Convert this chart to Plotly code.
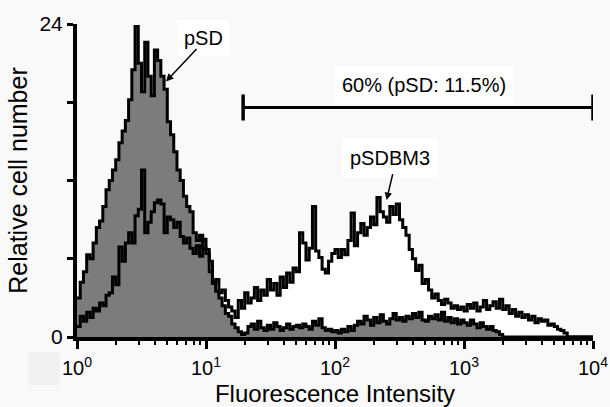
import plotly.graph_objects as go

# Histogram channels: log10 fluorescence, from 10^0 in steps of 0.025 decade
LOG_START = 0.0
LOG_STEP = 0.025
N_BINS = 160

# Relative cell number per channel
psd_counts = [
    3.0, 4.2, 5.0, 6.3, 6.0, 7.2, 8.4, 8.9, 10.0, 11.3,
    12.0, 12.8, 13.6, 14.9, 15.8, 16.6, 18.2, 20.5, 23.8, 21.0,
    18.8, 22.6, 20.0, 18.5, 22.0, 21.2, 20.0, 19.0, 16.5, 15.5,
    14.2, 12.8, 12.0, 10.8, 10.0, 9.6, 8.0, 7.4, 7.8, 6.8,
    6.4, 5.0, 4.2, 3.5, 3.0, 2.4, 1.8, 1.6, 1.0, 0.7,
    0.4, 0.2, 0.3, 0.8, 1.0, 0.6, 1.2, 0.7, 0.5, 0.9,
    0.6, 1.1, 0.8, 0.5, 0.7, 1.0, 0.6, 0.8, 0.9, 0.7,
    1.0, 0.8, 0.6, 1.2, 0.9, 1.4, 0.7, 0.5, 0.6, 0.4,
    0.5, 0.3, 0.6, 0.4, 0.8, 0.5, 0.9, 1.2, 1.0, 1.6,
    1.3, 0.9, 1.5, 1.1, 1.7, 1.2, 1.0, 1.4, 1.8, 1.3,
    1.5, 1.2, 1.6, 1.4, 1.8, 1.5, 1.9, 1.3, 1.2, 1.6,
    1.4, 1.7, 1.3, 1.9, 1.2, 1.5, 1.1, 1.4, 1.0, 1.3,
    1.1, 0.9, 1.3, 1.0, 0.7, 1.1, 0.8, 0.6, 0.8, 0.5,
    0.4, 0.2, 0.0, 0.0, 0.0, 0.0, 0.0, 0.0, 0.0, 0.0,
    0.0, 0.0, 0.0, 0.0, 0.0, 0.0, 0.0, 0.0, 0.0, 0.0,
    0.0, 0.0, 0.0, 0.0, 0.0, 0.0, 0.0, 0.0, 0.0, 0.0,
]

psdbm3_counts = [
    0.8, 1.6, 1.2, 1.9, 1.5, 2.2, 2.0, 2.6, 2.4, 3.2,
    3.4, 4.6, 4.0, 6.9, 5.8, 7.2, 8.0, 7.2, 9.3, 9.8,
    12.8, 8.0, 8.8, 9.6, 10.3, 10.5, 10.2, 8.0, 9.2, 9.0,
    8.4, 8.8, 7.7, 7.2, 7.6, 6.8, 6.4, 7.0, 6.2, 7.5,
    6.7, 5.8, 4.1, 4.4, 3.4, 3.6, 2.8, 2.3, 2.0, 1.5,
    2.8, 2.2, 3.4, 2.6, 3.0, 3.8, 2.8, 3.6, 3.2, 4.4,
    3.6, 4.1, 3.2, 4.6, 3.8, 4.9, 4.2, 5.3, 5.0, 8.0,
    7.2, 5.9, 6.8, 10.0, 6.6, 6.1, 5.2, 4.9, 5.8, 6.4,
    6.7, 6.1, 6.7, 6.3, 7.4, 9.5, 7.0, 8.0, 8.7, 7.8,
    8.4, 9.2, 8.6, 10.7, 9.6, 9.2, 8.8, 10.0, 9.4, 10.2,
    9.0, 8.4, 7.8, 6.7, 6.0, 5.1, 5.5, 4.1, 4.4, 3.6,
    3.0, 3.3, 2.8, 2.5, 2.9, 2.6, 2.2, 2.4, 2.1, 2.3,
    2.0, 2.5, 2.2, 2.6, 2.0, 2.3, 2.8, 2.1, 2.4, 2.7,
    2.2, 2.9, 2.1, 2.4, 1.8, 2.1, 1.6, 1.9, 1.5, 1.7,
    1.3, 1.6, 1.1, 1.4, 1.2, 1.3, 0.9, 1.0, 0.8, 0.6,
    0.5, 0.3, 0.0, 0.0, 0.0, 0.0, 0.0, 0.0, 0.0, 0.0,
]

x_tick_vals = [1, 10, 100, 1000, 10000]
x_tick_text = ["10<sup>0</sup>", "10<sup>1</sup>", "10<sup>2</sup>", "10<sup>3</sup>", "10<sup>4</sup>"]
y_tick_vals = [0, 6, 12, 18, 24]
y_tick_text = ["0", "", "", "", "24"]

gate_low, gate_high, gate_level = 19.4, 10000, 17.6
gate_label = "60% (pSD: 11.5%)"

FONT = "Liberation Sans, Arial, sans-serif"

edges = [10 ** (LOG_START + i * LOG_STEP) for i in range(N_BINS + 1)]
xs = edges
psd_y = psd_counts + [psd_counts[-1]]
bm3_y = psdbm3_counts + [psdbm3_counts[-1]]

minor_vals = [m * 10 ** k for k in range(4) for m in range(2, 10)]

fig = go.Figure()
# white fill under pSDBM3 (drawn beneath)
fig.add_trace(go.Scatter(x=xs, y=bm3_y, mode="lines", line=dict(shape="hv", width=0, color="white"),
                         fill="tozeroy", fillcolor="white", hoverinfo="skip", showlegend=False))
# pSD grey histogram
fig.add_trace(go.Scatter(x=xs, y=psd_y, mode="lines", line=dict(shape="hv", width=3, color="black"),
                         fill="tozeroy", fillcolor="#7c7c7c", name="pSD", showlegend=False))
# pSDBM3 outline on top
fig.add_trace(go.Scatter(x=xs, y=bm3_y, mode="lines", line=dict(shape="hv", width=3, color="black"),
                         name="pSDBM3", showlegend=False))

# gate bar
fig.add_trace(go.Scatter(x=[gate_low, gate_high], y=[gate_level, gate_level], mode="lines",
                         line=dict(color="black", width=3), hoverinfo="skip", showlegend=False, cliponaxis=False))
for gx in (gate_low, gate_high):
    fig.add_trace(go.Scatter(x=[gx, gx], y=[gate_level - 1.0, gate_level + 1.0], mode="lines",
                             line=dict(color="black", width=3.5), hoverinfo="skip", showlegend=False,
                             cliponaxis=False))

ANN_FONT = dict(family=FONT, size=20, color="black")
fig.add_annotation(x=2.69, y=19.3, xref="x", yref="y", text=gate_label, showarrow=False,
                   font=ANN_FONT, bgcolor="white", borderpad=7)
fig.add_annotation(x=0.977, y=22.9, xref="x", yref="y", text="pSD", showarrow=False,
                   font=ANN_FONT, bgcolor="white", borderpad=6)
fig.add_annotation(x=0.69, y=19.6, ax=0.938, ay=22.2, xref="x", yref="y", axref="x", ayref="y",
                   text="", showarrow=True, arrowhead=2, arrowsize=1, arrowwidth=1.5, arrowcolor="black")
fig.add_annotation(x=2.43, y=13.7, xref="x", yref="y", text="pSDBM3", showarrow=False,
                   font=ANN_FONT, bgcolor="white", borderpad=8)
fig.add_annotation(x=2.40, y=10.5, ax=2.45, ay=12.6, xref="x", yref="y", axref="x", ayref="y",
                   text="", showarrow=True, arrowhead=2, arrowsize=1, arrowwidth=1.5, arrowcolor="black")

# faint grey patch left of the first tick label
fig.add_shape(type="rect", xref="paper", yref="paper", x0=-0.095, x1=-0.033, y0=-0.153, y1=-0.048,
              fillcolor="#f1f1f1", line=dict(width=0), layer="below")

fig.update_layout(
    width=610, height=407,
    margin=dict(l=77, r=17, t=24, b=70),
    paper_bgcolor="#f9f9f9", plot_bgcolor="#f9f9f9",
    font=dict(family=FONT, size=20, color="black"),
    showlegend=False,
)
fig.update_xaxes(
    type="log", range=[0, 4], automargin=False,
    tickmode="array", tickvals=x_tick_vals, ticktext=x_tick_text,
    ticks="outside", ticklen=8, tickwidth=3, tickcolor="black",
    ticklabelstandoff=2,
    showline=True, linewidth=4, linecolor="black", mirror=False,
    showgrid=False, zeroline=False,
    tickfont=dict(family=FONT, size=20),
    minor=dict(tickmode="array", tickvals=minor_vals, ticks="outside", ticklen=4, tickwidth=2,
               tickcolor="black", showgrid=False),
    title=dict(text="Fluorescence Intensity", font=dict(family=FONT, size=24), standoff=14),
)
fig.update_yaxes(
    range=[0, 24], automargin=False,
    tickmode="array", tickvals=y_tick_vals, ticktext=y_tick_text,
    ticks="outside", ticklen=6, tickwidth=3, tickcolor="black",
    showline=True, linewidth=4, linecolor="black",
    showgrid=False, zeroline=False,
    tickfont=dict(family=FONT, size=21),
    title=dict(text="Relative cell number", font=dict(family=FONT, size=25), standoff=6),
)

fig.write_html("out.html")
